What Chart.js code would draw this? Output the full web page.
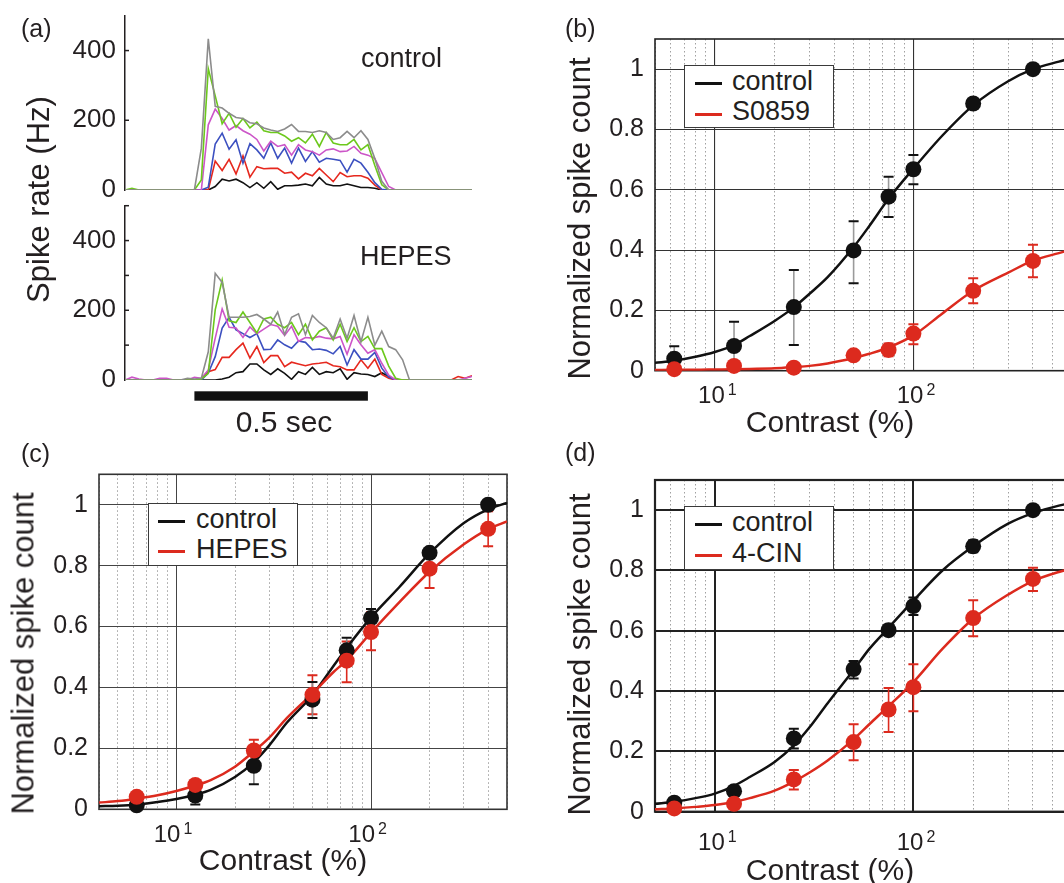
<!DOCTYPE html>
<html>
<head>
<meta charset="utf-8">
<script src="https://cdn.jsdelivr.net/npm/chart.js@4.4.0/dist/chart.umd.min.js"></script>
<style>
html, body { margin: 0; padding: 0; background: #fff; }
body { width: 1064px; height: 883px; overflow: hidden; position: relative; font-family: "Liberation Sans", Arial, sans-serif; }
canvas { position: absolute; }
.txt { position: absolute; line-height: 1; white-space: nowrap; color: #231f20; }
.legend { position: absolute; box-sizing: border-box; border: 1.5px solid #3a3a3a; background: #fff; }
.sample { position: absolute; height: 3px; width: 27px; }
</style>
</head>
<body>
<canvas id="aTop" width="500" height="200" style="left:0;top:0"></canvas>
<canvas id="aBottom" width="500" height="245" style="left:0;top:195px"></canvas>
<canvas id="chartB" width="560" height="440" style="left:560px;top:0"></canvas>
<canvas id="chartC" width="520" height="443" style="left:0;top:440px"></canvas>
<canvas id="chartD" width="560" height="443" style="left:560px;top:440px"></canvas>
<script>
// ---- panel (a): PSTH traces, 20 ms bins ----
const binTimes = [0, 20, 40, 60, 80, 100, 120, 140, 160, 180, 200, 220, 240, 260, 280, 300, 320, 340, 360, 380,
    400, 420, 440, 460, 480, 500, 520, 540, 560, 580, 600, 620, 640, 660, 680, 700, 720, 740, 760, 780,
    800, 820, 840, 860, 880, 900, 920, 940, 960, 980, 1000];
const stimOn = 200;
const stimOff = 700;
const rateTicks = [0, 100, 200, 300, 400, 500];
const rateLabels = [0, 200, 400];

const ctrlBlack = [0,0,0,0,0,0,0,0,0,0, 0,0,0,10,31,26,31,21,7,21, 5,24,2,12,12,14,17,12,36,17,
    12,12,17,12,7,7,5,0,0,0, 0,0,0,0,0,0,0,0,0,0, 0];
const ctrlRed = [0,0,0,0,0,0,0,0,0,0, 0,0,0,83,56,88,46,98,37,67, 61,62,62,48,51,32,48,41,62,43,
    24,50,38,41,41,34,14,0,0,0, 0,0,0,0,0,0,0,0,0,0, 0];
const ctrlBlue = [0,0,0,0,0,0,0,0,0,0, 0,0,8,132,163,117,144,77,133,115, 91,135,91,120,77,120,82,110,80,91,
    88,85,51,88,77,51,21,2,0,0, 0,0,0,0,0,0,0,0,0,0, 0];
const ctrlMagenta = [0,0,0,0,0,0,0,0,0,0, 0,0,187,232,205,172,185,170,160,145, 112,140,125,130,100,130,115,110,100,115,
    118,110,112,125,105,100,90,50,10,0, 0,0,0,0,0,0,0,0,0,0, 0];
const ctrlGreen = [0,5,0,0,0,0,0,0,0,0, 0,29,348,270,190,220,180,205,178,195, 170,165,165,155,140,150,135,160,125,165,
    135,130,130,145,115,130,70,15,0,0, 0,0,0,0,0,0,0,0,0,0, 0];
const ctrlGray = [0,0,0,0,0,0,0,0,0,0, 0,120,434,240,235,220,208,205,193,190, 178,172,168,175,188,168,168,165,170,165,
    145,150,168,150,170,145,90,25,0,0, 0,0,0,0,0,0,0,0,0,0, 0];

const hepesBlack = [0,0,0,0,0,0,0,0,0,0, 0,0,0,0,3,8,21,24,46,46, 29,16,32,19,2,24,16,36,16,24,
    21,32,2,21,17,16,10,21,10,0, 0,0,0,0,0,0,0,0,0,0, 0];
const hepesRed = [0,0,0,0,0,0,0,0,0,0, 0,3,24,30,65,65,87,106,63,96, 50,70,70,38,51,46,41,46,48,51,
    41,38,29,29,58,34,60,16,5,0, 0,0,0,0,0,0,0,0,10,5, 12];
const hepesBlue = [0,0,0,0,0,0,0,0,0,0, 0,0,20,67,149,180,144,133,122,133, 87,88,115,101,91,112,108,87,89,85,
    75,96,43,87,60,60,79,34,8,0, 0,0,0,0,0,0,0,0,0,0, 0];
const hepesMagenta = [0,8,3,0,0,5,5,0,0,0, 8,5,29,120,204,151,149,122,152,133, 146,159,154,128,154,111,122,120,125,120,
    118,125,74,130,101,77,87,48,14,0, 0,0,0,0,0,0,0,0,0,5, 10];
const hepesGreen = [0,0,0,0,0,0,0,0,0,0, 0,3,19,201,287,170,165,195,165,135, 175,180,160,150,165,130,160,115,140,150,
    115,160,110,150,110,125,90,90,40,5, 0,0,0,0,0,0,0,0,0,0, 0];
const hepesGray = [0,0,0,0,0,0,0,0,0,5, 3,5,81,306,280,180,180,180,182,188, 175,160,195,130,180,190,130,185,165,150,
    120,175,120,185,110,180,100,140,96,87, 58,0,0,0,0,0,0,0,0,0, 0];

// ---- panels (b)-(d): contrast response ----
const contrast = [6.25, 12.5, 25, 50, 75, 100, 200, 400];
const decadeTicks = [10, 100];
const yTicks = [0, 0.2, 0.4, 0.6, 0.8, 1];
const gridXWide = [5, 6, 7, 8, 9, 10, 20, 30, 40, 50, 60, 70, 80, 90, 100, 200, 300, 400, 500, 600, 700, 800, 900, 1000];
const gridXNarrow = [4, 5, 6, 7, 8, 9, 10, 20, 30, 40, 50, 60, 70, 80, 90, 100, 200, 300, 400, 500];

// (b) control vs S0859
const bControl = [0.04, 0.082, 0.211, 0.399, 0.577, 0.668, 0.886, 1.0];
const bControlUpper = [0.081, 0.162, 0.334, 0.496, 0.643, 0.715, 0.9, 1.0];
const bControlLower = [0.0, 0.002, 0.085, 0.29, 0.51, 0.618, 0.872, 1.0];
const bS0859 = [0.005, 0.016, 0.01, 0.051, 0.069, 0.123, 0.265, 0.364];
const bS0859Upper = [0.01, 0.025, 0.015, 0.06, 0.09, 0.154, 0.307, 0.418];
const bS0859Lower = [0.0, 0.007, 0.005, 0.042, 0.048, 0.088, 0.224, 0.31];
const bFitX = [5, 6.25, 8, 10, 12.5, 15, 20, 25, 30, 37, 50, 60, 75, 100, 140, 200, 300, 400, 540, 700, 1000];
const bFitControl = [0.026, 0.033, 0.046, 0.062, 0.085, 0.115, 0.165, 0.21, 0.255, 0.31, 0.41, 0.48, 0.57, 0.67, 0.78, 0.88, 0.96, 1.0, 1.025, 1.045, 1.06];
const bFitS0859 = [0.002, 0.003, 0.003, 0.004, 0.005, 0.006, 0.008, 0.012, 0.016, 0.024, 0.042, 0.056, 0.077, 0.117, 0.19, 0.265, 0.325, 0.365, 0.39, 0.41, 0.43];

// (c) control vs HEPES
const cControl = [0.013, 0.045, 0.143, 0.36, 0.522, 0.628, 0.842, 1.0];
const cControlUpper = [0.02, 0.074, 0.2, 0.418, 0.563, 0.658, 0.855, 1.0];
const cControlLower = [0.006, 0.016, 0.082, 0.3, 0.48, 0.598, 0.83, 1.0];
const cHepes = [0.041, 0.08, 0.193, 0.376, 0.488, 0.582, 0.79, 0.921];
const cHepesUpper = [0.05, 0.09, 0.228, 0.44, 0.551, 0.647, 0.855, 0.979];
const cHepesLower = [0.032, 0.07, 0.158, 0.312, 0.417, 0.522, 0.727, 0.864];
const cFitX = [4, 5, 6.25, 8, 10, 12.5, 15, 20, 25, 30, 37, 50, 64, 75, 100, 140, 200, 300, 400, 500];
const cFitControl = [0.01, 0.012, 0.016, 0.024, 0.034, 0.048, 0.064, 0.106, 0.155, 0.21, 0.285, 0.375, 0.47, 0.53, 0.63, 0.73, 0.84, 0.94, 0.985, 1.006];
const cFitHepes = [0.022, 0.027, 0.035, 0.046, 0.06, 0.078, 0.096, 0.14, 0.19, 0.235, 0.3, 0.38, 0.45, 0.49, 0.58, 0.68, 0.78, 0.87, 0.92, 0.945];

// (d) control vs 4-CIN
const dControl = [0.03, 0.068, 0.243, 0.473, 0.602, 0.682, 0.88, 1.0];
const dControlUpper = [0.035, 0.075, 0.275, 0.5, 0.62, 0.71, 0.9, 1.0];
const dControlLower = [0.025, 0.06, 0.21, 0.442, 0.585, 0.652, 0.86, 1.0];
const dCin = [0.011, 0.026, 0.107, 0.231, 0.339, 0.413, 0.642, 0.772];
const dCinUpper = [0.015, 0.03, 0.138, 0.29, 0.41, 0.489, 0.701, 0.809];
const dCinLower = [0.007, 0.022, 0.074, 0.171, 0.264, 0.333, 0.582, 0.732];
const dFitX = [5, 6.25, 8, 10, 12.5, 15, 20, 25, 30, 37, 50, 60, 75, 100, 140, 200, 300, 400, 540, 700, 1000];
const dFitControl = [0.026, 0.033, 0.045, 0.06, 0.086, 0.115, 0.165, 0.22, 0.28, 0.36, 0.47, 0.54, 0.61, 0.7, 0.8, 0.88, 0.955, 0.99, 1.015, 1.03, 1.045];
const dFitCin = [0.008, 0.011, 0.016, 0.022, 0.032, 0.045, 0.07, 0.1, 0.13, 0.17, 0.24, 0.29, 0.35, 0.43, 0.54, 0.64, 0.72, 0.765, 0.795, 0.815, 0.835];

const FONT = '"Liberation Sans", Arial, Helvetica, sans-serif';
const TEXT = '#231f20';
const RED = '#dc2a1e';
const BLACK = '#111111';

Chart.defaults.font.family = FONT;
Chart.defaults.color = TEXT;

// box round the plot area
const framePlugin = {
    id: 'frame',
    beforeDatasetsDraw(chart, args, opts) {
        const { ctx, chartArea: a } = chart;
        ctx.save();
        ctx.strokeStyle = opts.color;
        ctx.lineWidth = opts.width;
        ctx.strokeRect(a.left, a.top, a.right - a.left, a.bottom - a.top);
        ctx.restore();
    }
};

// vertical error bars from errUpper / errLower on a dataset
const errorBarPlugin = {
    id: 'errorBars',
    beforeDatasetsDraw(chart) {
        const { ctx, scales: { x, y } } = chart;
        ctx.save();
        chart.data.datasets.forEach(ds => {
            if (!ds.errUpper) return;
            ds.data.forEach((p, i) => {
                const px = x.getPixelForValue(p.x);
                const top = y.getPixelForValue(ds.errUpper[i]);
                const bot = y.getPixelForValue(ds.errLower[i]);
                ctx.strokeStyle = ds.stemColor;
                ctx.lineWidth = 1.6;
                ctx.beginPath();
                ctx.moveTo(px, top);
                ctx.lineTo(px, bot);
                ctx.stroke();
                ctx.strokeStyle = ds.capColor;
                ctx.lineWidth = 2;
                ctx.beginPath();
                ctx.moveTo(px - 5, top); ctx.lineTo(px + 5, top);
                ctx.moveTo(px - 5, bot); ctx.lineTo(px + 5, bot);
                ctx.stroke();
            });
        });
        ctx.restore();
    }
};

// "10" with a raised exponent under each decade line
const logLabelPlugin = {
    id: 'logLabels',
    afterDraw(chart, args, opts) {
        const { ctx, chartArea: a, scales: { x } } = chart;
        ctx.save();
        ctx.fillStyle = TEXT;
        ctx.textBaseline = 'middle';
        decadeTicks.forEach(v => {
            const px = x.getPixelForValue(v);
            const exp = String(Math.round(Math.log10(v)));
            ctx.font = '24px ' + FONT;
            ctx.textAlign = 'right';
            ctx.fillText('10', px + opts.dx, a.bottom + opts.dy);
            ctx.font = '16px ' + FONT;
            ctx.textAlign = 'left';
            ctx.fillText(exp, px + opts.dx + 3, a.bottom + opts.dy - 6);
        });
        ctx.restore();
    }
};

// short tick marks pointing into the plot
const innerTickPlugin = {
    id: 'innerTicks',
    afterDraw(chart) {
        const { ctx, chartArea: a, scales: { y } } = chart;
        ctx.save();
        ctx.strokeStyle = TEXT;
        ctx.lineWidth = 1.5;
        y.ticks.forEach(t => {
            if (t.value === 0) return;
            const py = y.getPixelForValue(t.value);
            ctx.beginPath();
            ctx.moveTo(a.left, py);
            ctx.lineTo(a.left + 4, py);
            ctx.stroke();
        });
        ctx.restore();
    }
};

// black bar marking the stimulus
const stimBarPlugin = {
    id: 'stimBar',
    afterDraw(chart, args, opts) {
        const { ctx, chartArea: a, scales: { x } } = chart;
        const x0 = x.getPixelForValue(stimOn);
        const x1 = x.getPixelForValue(stimOff);
        ctx.save();
        ctx.fillStyle = BLACK;
        ctx.fillRect(x0, a.bottom + opts.offset, x1 - x0, opts.height);
        ctx.restore();
    }
};

function traceChart(canvasId, series, padding, extraPlugins, pluginOpts) {
    const datasets = series.map(s => ({
        data: binTimes.map((t, i) => ({ x: t, y: s.y[i] })),
        borderColor: s.color,
        borderWidth: 1.6,
        pointRadius: 0,
        tension: 0
    }));
    return new Chart(document.getElementById(canvasId), {
        type: 'line',
        data: { datasets },
        options: {
            animation: false,
            responsive: false,
            devicePixelRatio: 1,
            events: [],
            layout: { padding },
            plugins: Object.assign({ legend: { display: false }, tooltip: { enabled: false } }, pluginOpts || {}),
            scales: {
                x: { type: 'linear', min: 0, max: 1000, display: false },
                y: {
                    min: 0, max: 500,
                    afterBuildTicks: s => { s.ticks = rateTicks.map(v => ({ value: v })); },
                    ticks: {
                        font: { size: 26 }, padding: 9, color: TEXT,
                        callback: v => rateLabels.includes(v) ? String(v) : ''
                    },
                    grid: { display: false, drawTicks: false },
                    border: { display: true, color: TEXT, width: 1.5 },
                    afterFit: s => { s.width = 125; s.paddingTop = 0; s.paddingBottom = 0; }
                }
            }
        },
        plugins: [innerTickPlugin].concat(extraPlugins || [])
    });
}

function contrastChart(canvasId, o) {
    const isDecade = c => !!(c.tick && decadeTicks.includes(c.tick.value));
    const datasets = [];
    o.series.forEach(s => datasets.push({
        data: contrast.map((x, i) => ({ x, y: s.y[i] })),
        showLine: false,
        pointRadius: 8,
        pointHoverRadius: 8,
        pointBackgroundColor: s.color,
        pointBorderColor: s.color,
        pointBorderWidth: 0,
        clip: false,
        errUpper: s.upper,
        errLower: s.lower,
        stemColor: s.stem,
        capColor: s.color
    }));
    o.fits.forEach(f => datasets.push({
        data: f.x.map((x, i) => ({ x, y: f.y[i] })),
        borderColor: f.color,
        borderWidth: 2.5,
        pointRadius: 0,
        cubicInterpolationMode: 'monotone'
    }));
    return new Chart(document.getElementById(canvasId), {
        type: 'line',
        data: { datasets },
        options: {
            animation: false,
            responsive: false,
            devicePixelRatio: 1,
            events: [],
            layout: { padding: o.padding },
            plugins: {
                legend: { display: false },
                tooltip: { enabled: false },
                frame: { color: o.frameColor, width: o.frameWidth },
                logLabels: { dx: o.labelDx, dy: o.labelDy }
            },
            scales: {
                x: {
                    type: 'logarithmic', min: o.xMin, max: o.xMax,
                    afterBuildTicks: s => { s.ticks = o.gridX.map(v => ({ value: v })); },
                    ticks: { display: false },
                    grid: {
                        drawTicks: false,
                        color: c => isDecade(c) ? o.majorColor : '#a0a0a0',
                        lineWidth: c => isDecade(c) ? o.majorWidth : 1
                    },
                    border: { display: false, dash: c => (c.tick && !isDecade(c)) ? [1.5, 2.5] : [] },
                    afterFit: s => { s.height = o.xHeight; }
                },
                y: {
                    min: 0, max: 1.1,
                    afterBuildTicks: s => { s.ticks = yTicks.map(v => ({ value: v })); },
                    ticks: { font: { size: 25 }, padding: 11, color: TEXT, callback: v => String(v) },
                    grid: { drawTicks: false, color: o.majorColor, lineWidth: o.majorWidth },
                    border: { display: false },
                    afterFit: s => { s.width = o.yWidth; }
                }
            }
        },
        plugins: [framePlugin, errorBarPlugin, logLabelPlugin]
    });
}

// ---- build panel (a) ----
traceChart('aTop', [
    { y: ctrlGray, color: '#8c8c8c' },
    { y: ctrlGreen, color: '#6cc81c' },
    { y: ctrlMagenta, color: '#cc55c8' },
    { y: ctrlBlue, color: '#3c50c0' },
    { y: ctrlRed, color: '#e6281e' },
    { y: ctrlBlack, color: BLACK }
], { top: 15.7, right: 28, bottom: 10, left: 0 });

traceChart('aBottom', [
    { y: hepesGray, color: '#8c8c8c' },
    { y: hepesGreen, color: '#6cc81c' },
    { y: hepesMagenta, color: '#cc55c8' },
    { y: hepesBlue, color: '#3c50c0' },
    { y: hepesRed, color: '#e6281e' },
    { y: hepesBlack, color: BLACK }
], { top: 10.7, right: 28, bottom: 60, left: 0 }, [stimBarPlugin], { stimBar: { offset: 11.3, height: 9.4 } });

// ---- build panels (b)-(d) ----
contrastChart('chartB', {
    xMin: 5, xMax: 1000, gridX: gridXWide,
    padding: { top: 39, right: 2.5, bottom: 0, left: 0 }, yWidth: 95, xHeight: 69.3,
    majorColor: '#333333', majorWidth: 1.1, frameColor: '#222222', frameWidth: 1.6,
    labelDx: 10, labelDy: 26,
    series: [
        { y: bS0859, upper: bS0859Upper, lower: bS0859Lower, color: RED, stem: RED },
        { y: bControl, upper: bControlUpper, lower: bControlLower, color: BLACK, stem: '#9a9a9a' }
    ],
    fits: [
        { x: bFitX, y: bFitS0859, color: RED },
        { x: bFitX, y: bFitControl, color: BLACK }
    ]
});

contrastChart('chartC', {
    xMin: 4, xMax: 500, gridX: gridXNarrow,
    padding: { top: 34.3, right: 13, bottom: 0, left: 0 }, yWidth: 99, xHeight: 73.7,
    majorColor: '#444444', majorWidth: 1, frameColor: '#333333', frameWidth: 1.6,
    labelDx: 4, labelDy: 26,
    series: [
        { y: cHepes, upper: cHepesUpper, lower: cHepesLower, color: RED, stem: RED },
        { y: cControl, upper: cControlUpper, lower: cControlLower, color: BLACK, stem: '#8a8a8a' }
    ],
    fits: [
        { x: cFitX, y: cFitHepes, color: RED },
        { x: cFitX, y: cFitControl, color: BLACK }
    ]
});

contrastChart('chartD', {
    xMin: 5, xMax: 1000, gridX: gridXWide,
    padding: { top: 40, right: 2.5, bottom: 0, left: 0 }, yWidth: 95, xHeight: 71.3,
    majorColor: '#222222', majorWidth: 2, frameColor: '#222222', frameWidth: 2.2,
    labelDx: 10, labelDy: 32,
    series: [
        { y: dCin, upper: dCinUpper, lower: dCinLower, color: RED, stem: RED },
        { y: dControl, upper: dControlUpper, lower: dControlLower, color: BLACK, stem: BLACK }
    ],
    fits: [
        { x: dFitX, y: dFitCin, color: RED },
        { x: dFitX, y: dFitControl, color: BLACK }
    ]
});

// ---- text and legends ----
function addText(text, x, cy, size, mode) {
    const el = document.createElement('div');
    el.className = 'txt';
    el.textContent = text;
    el.style.fontSize = size + 'px';
    if (mode === 'rotate' || mode === 'center') {
        const w = 420;
        el.style.width = w + 'px';
        el.style.textAlign = 'center';
        el.style.left = (x - w / 2) + 'px';
        el.style.top = (cy - size / 2) + 'px';
        if (mode === 'rotate') el.style.transform = 'rotate(-90deg)';
    } else {
        el.style.left = x + 'px';
        el.style.top = (cy - size * 0.49) + 'px';
    }
    document.body.appendChild(el);
}

function addLegend(box, items) {
    const el = document.createElement('div');
    el.className = 'legend';
    el.style.left = box.left + 'px';
    el.style.top = box.top + 'px';
    el.style.width = box.width + 'px';
    el.style.height = box.height + 'px';
    document.body.appendChild(el);
    items.forEach(it => {
        const s = document.createElement('div');
        s.className = 'sample';
        s.style.left = it.lx + 'px';
        s.style.top = (it.ly - 1.5) + 'px';
        s.style.background = it.color;
        document.body.appendChild(s);
        addText(it.text, it.tx, it.ty, 27);
    });
}

addText('(a)', 21, 28, 25);
addText('(b)', 565, 28, 25);
addText('(c)', 21, 453, 25);
addText('(d)', 565, 452, 25);

addText('Spike rate (Hz)', 38, 199.5, 31, 'rotate');
addText('control', 361, 58, 27);
addText('HEPES', 360, 256, 27);
addText('0.5 sec', 284, 422, 30, 'center');

addText('Normalized spike count', 579, 218, 31, 'rotate');
addText('Contrast (%)', 830, 421.5, 30, 'center');
addText('Normalized spike count', 22.5, 653, 31, 'rotate');
addText('Contrast (%)', 283, 859.5, 30, 'center');
addText('Normalized spike count', 579, 654, 31, 'rotate');
addText('Contrast (%)', 830, 869.5, 30, 'center');

addLegend({ left: 684.3, top: 65, width: 150, height: 63.3 }, [
    { text: 'control', color: BLACK, lx: 695, ly: 83.3, tx: 732, ty: 81.3 },
    { text: 'S0859', color: RED, lx: 695, ly: 114.3, tx: 732, ty: 111.3 }
]);
addLegend({ left: 147.7, top: 502.7, width: 150, height: 63.3 }, [
    { text: 'control', color: BLACK, lx: 158.3, ly: 521, tx: 196, ty: 519 },
    { text: 'HEPES', color: RED, lx: 158.3, ly: 551, tx: 196, ty: 549.7 }
]);
addLegend({ left: 684.3, top: 506, width: 150, height: 63.7 }, [
    { text: 'control', color: BLACK, lx: 695, ly: 524, tx: 732, ty: 522 },
    { text: '4-CIN', color: RED, lx: 695, ly: 555.7, tx: 732, ty: 553.3 }
]);
</script>
</body>
</html>
